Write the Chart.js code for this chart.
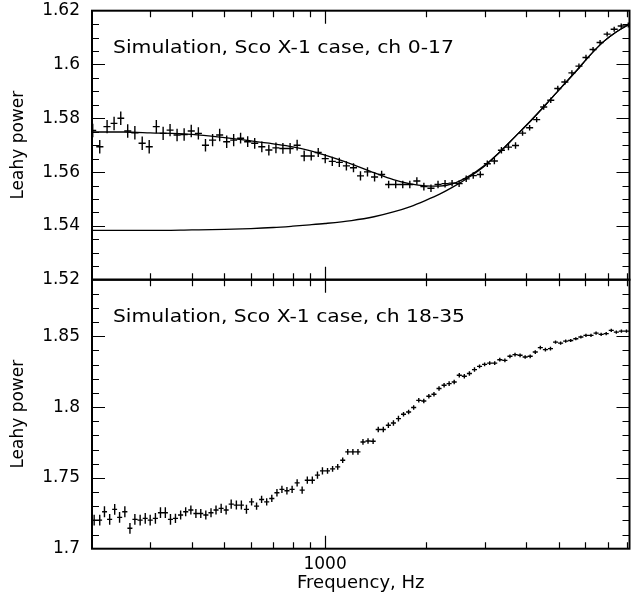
<!DOCTYPE html>
<html>
<head>
<meta charset="utf-8">
<script src="https://cdn.jsdelivr.net/npm/chart.js@4.4.1/dist/chart.umd.min.js"></script>
<style>
  html, body { margin: 0; padding: 0; background: #fff; }
  canvas { display: block; }
</style>
</head>
<body>
<canvas id="leahy" width="637" height="602"></canvas>
<script>
"use strict";

/* panel labels */
var topLabel = 'Simulation, Sco X-1 case, ch 0-17';
var bottomLabel = 'Simulation, Sco X-1 case, ch 18-35';

/* axis ranges and ticks */
var freqRange = [201, 8130];
var xLabelTicks = [1000];
var xMinorTicks = [300, 400, 500, 600, 700, 800, 900, 2000, 3000, 4000, 5000, 6000, 7000, 8000];
var topRange = [1.52, 1.62];
var bottomRange = [1.70, 1.89];

/* ch 0-17 : binned power */
var topFreq = [202, 212, 223, 234, 245, 257, 270, 284, 298, 313, 328, 344, 361, 379, 398, 418, 439, 461, 484, 508,
    533, 559, 587, 616, 647, 679, 713, 748, 786, 825, 866, 909, 954, 1001, 1051, 1103, 1158, 1216, 1276, 1339,
    1406, 1476, 1549, 1626, 1707, 1792, 1881, 1974, 2073, 2176, 2284, 2397, 2516, 2642, 2773, 2911, 3055, 3207,
    3367, 3534, 3710, 3894, 4088, 4291, 4504, 4728, 4963, 5210, 5469, 5741, 6026, 6326, 6640, 6970, 7317, 7680, 8062];
var topPower = [1.5755, 1.5694, 1.5769, 1.5781, 1.5800, 1.5753, 1.5746, 1.5707, 1.5694, 1.5769, 1.5744, 1.5756,
    1.5738, 1.5740, 1.5753, 1.5744, 1.5700, 1.5719, 1.5738, 1.5713, 1.5719, 1.5726, 1.5713, 1.5707, 1.5694, 1.5682,
    1.5690, 1.5688, 1.5688, 1.5700, 1.5660, 1.5660, 1.5673, 1.5650, 1.5640, 1.5636, 1.5623, 1.5616, 1.5586, 1.5601,
    1.5582, 1.5591, 1.5554, 1.5554, 1.5554, 1.5554, 1.5567, 1.5546, 1.5540, 1.5554, 1.5557, 1.5559, 1.5557, 1.5575,
    1.5587, 1.5591, 1.5631, 1.5641, 1.5681, 1.5693, 1.5699, 1.5745, 1.5765, 1.5795, 1.5842, 1.5867, 1.5911, 1.5935,
    1.5969, 1.5994, 1.6026, 1.6056, 1.6082, 1.6113, 1.6131, 1.6143, 1.6147];
var topError = [0.0025, 0.0025, 0.0025, 0.0025, 0.0025, 0.0025, 0.0025, 0.0025, 0.0025, 0.0025, 0.0025,
    0.0023, 0.0023, 0.0023, 0.0023, 0.0023, 0.0023, 0.0023, 0.0023, 0.0023, 0.0023,
    0.0020, 0.0020, 0.0020, 0.0020, 0.0020, 0.0020, 0.0020, 0.0020, 0.0020, 0.0020,
    0.0017, 0.0017, 0.0017, 0.0017, 0.0017, 0.0017, 0.0017, 0.0017, 0.0017, 0.0017,
    0.0014, 0.0014, 0.0014, 0.0014, 0.0014, 0.0014, 0.0014, 0.0014, 0.0014, 0.0014,
    0.0012, 0.0012, 0.0012, 0.0012, 0.0012, 0.0012, 0.0012, 0.0012, 0.0012, 0.0012,
    0.0010, 0.0010, 0.0010, 0.0010, 0.0010, 0.0010, 0.0010, 0.0010, 0.0010, 0.0010,
    0.0009, 0.0009, 0.0009, 0.0009, 0.0009, 0.0009];

/* ch 0-17 : model and lower component */
var curveFreq = [201, 250, 300, 400, 500, 600, 700, 800, 900, 1000, 1200, 1400, 1600, 1800, 2000, 2200, 2400,
    2700, 3000, 3300, 3700, 4100, 4600, 5100, 5600, 6200, 6800, 7400, 8130];
var modelPower = [1.5749, 1.5749, 1.5746, 1.5740, 1.5728, 1.5716, 1.5705, 1.5694, 1.5680, 1.5663, 1.5630, 1.5598,
    1.5572, 1.5556, 1.5549, 1.5548, 1.5556, 1.5586, 1.5625, 1.5670, 1.5732, 1.5788, 1.5855, 1.5917, 1.5972, 1.6035,
    1.6085, 1.6120, 1.6150];
var lowerPower = [1.5383, 1.5383, 1.5383, 1.5385, 1.5387, 1.5390, 1.5394, 1.5399, 1.5404, 1.5409, 1.5420, 1.5434,
    1.5452, 1.5472, 1.5495, 1.5518, 1.5543, 1.5582, 1.5623, 1.5670, 1.5732, 1.5788, 1.5855, 1.5917, 1.5972, 1.6035,
    1.6085, 1.6120, 1.6150];

/* ch 18-35 : binned power */
var bottomFreq = [204, 212, 219, 227, 235, 243, 252, 261, 270, 280, 290, 300, 311, 322, 333, 345, 357, 370, 383, 397,
    411, 425, 440, 456, 472, 489, 506, 524, 543, 562, 582, 603, 624, 646, 669, 693, 718, 743, 769, 797,
    825, 854, 885, 916, 949, 982, 1017, 1053, 1091, 1129, 1169, 1211, 1254, 1298, 1344, 1392, 1442, 1493, 1546, 1601,
    1657, 1716, 1777, 1840, 1906, 1973, 2043, 2116, 2191, 2269, 2349, 2432, 2519, 2608, 2701, 2797, 2896, 2999, 3105, 3215,
    3329, 3448, 3570, 3697, 3828, 3964, 4104, 4250, 4401, 4557, 4719, 4886, 5060, 5239, 5425, 5618, 5817, 6024, 6237, 6459,
    6688, 6925, 7171, 7426, 7689, 7962];
var bottomPower = [1.7202, 1.7202, 1.7261, 1.7207, 1.7278, 1.7221, 1.7261, 1.7144, 1.7207, 1.7202, 1.7214, 1.7202,
    1.7214, 1.7254, 1.7254, 1.7207, 1.7214, 1.7238, 1.7261, 1.7273, 1.7249, 1.7249, 1.7238, 1.7254, 1.7273, 1.7285,
    1.7273, 1.7315, 1.7308, 1.7308, 1.7278, 1.7331, 1.7301, 1.7348, 1.7331, 1.7355, 1.7395, 1.7419, 1.7409, 1.7419,
    1.7465, 1.7414, 1.7484, 1.7484, 1.7520, 1.7550, 1.7550, 1.7564, 1.7578, 1.7625, 1.7684, 1.7684, 1.7684, 1.7754,
    1.7761, 1.7759, 1.7842, 1.7842, 1.7872, 1.7888, 1.7919, 1.7950, 1.7966, 1.7997, 1.8048, 1.8043, 1.8077, 1.8091,
    1.8131, 1.8154, 1.8166, 1.8177, 1.8225, 1.8218, 1.8237, 1.8265, 1.8288, 1.8302, 1.8311, 1.8311, 1.8335, 1.8330,
    1.8359, 1.8371, 1.8366, 1.8354, 1.8359, 1.8389, 1.8420, 1.8406, 1.8413, 1.8459, 1.8452, 1.8466, 1.8471, 1.8483,
    1.8495, 1.8507, 1.8507, 1.8523, 1.8514, 1.8519, 1.8542, 1.8530, 1.8537, 1.8537];
var bottomError = [0.0038, 0.0038, 0.0038, 0.0038, 0.0038, 0.0038, 0.0038, 0.0038, 0.0038, 0.0038, 0.0038, 0.0038,
    0.0038, 0.0038, 0.0038, 0.0038, 0.0032, 0.0032, 0.0032, 0.0032, 0.0032, 0.0032, 0.0032, 0.0032, 0.0032, 0.0032,
    0.0032, 0.0032, 0.0032, 0.0032, 0.0032, 0.0026, 0.0026, 0.0026, 0.0026, 0.0026, 0.0026, 0.0026, 0.0026, 0.0026,
    0.0026, 0.0026, 0.0026, 0.0026, 0.0026, 0.0026, 0.0020, 0.0020, 0.0020, 0.0020, 0.0020, 0.0020, 0.0020, 0.0020,
    0.0020, 0.0020, 0.0020, 0.0020, 0.0020, 0.0020, 0.0020, 0.0016, 0.0016, 0.0016, 0.0016, 0.0016, 0.0016, 0.0016,
    0.0016, 0.0016, 0.0016, 0.0016, 0.0016, 0.0016, 0.0016, 0.0016, 0.0013, 0.0013, 0.0013, 0.0013, 0.0013, 0.0013,
    0.0013, 0.0013, 0.0013, 0.0013, 0.0013, 0.0013, 0.0013, 0.0013, 0.0013, 0.0011, 0.0011, 0.0011, 0.0011, 0.0011,
    0.0011, 0.0011, 0.0011, 0.0011, 0.0011, 0.0011, 0.0011, 0.0011, 0.0011, 0.0011];

var FONT = 'DejaVu Sans';

function points(xs, ys) {
    return xs.map(function (x, i) { return { x: x, y: ys[i] }; });
}

var panels = [
    { id: 'yTop', range: topRange, major: 0.02, minor: 0.005, text: topLabel, width: 341 },
    { id: 'yBottom', range: bottomRange, major: 0.05, minor: 0.01, text: bottomLabel, width: 352 }
];

/* data bins drawn as crosses: bin width horizontally, error vertically */
var crossPlugin = {
    id: 'crosses',
    afterDatasetsDraw: function (chart) {
        var ctx = chart.ctx, xs = chart.scales.x;
        chart.data.datasets.forEach(function (ds) {
            if (!ds.errors) return;
            var ys = chart.scales[ds.yAxisID];
            var f = ds.data.map(function (p) { return p.x; });
            ctx.save();
            ctx.beginPath();
            ctx.rect(xs.left, ys.top, xs.right - xs.left, ys.bottom - ys.top);
            ctx.clip();
            ctx.strokeStyle = '#000';
            ctx.lineWidth = 1.4;
            ctx.beginPath();
            ds.data.forEach(function (p, i) {
                var lo = i > 0 ? Math.sqrt(f[i - 1] * f[i]) : f[i] * Math.sqrt(f[i] / f[i + 1]);
                var hi = i < f.length - 1 ? Math.sqrt(f[i] * f[i + 1]) : f[i] * Math.sqrt(f[i] / f[i - 1]);
                var px = xs.getPixelForValue(p.x), py = ys.getPixelForValue(p.y);
                ctx.moveTo(xs.getPixelForValue(lo), py);
                ctx.lineTo(xs.getPixelForValue(hi), py);
                ctx.moveTo(px, ys.getPixelForValue(p.y - ds.errors[i]));
                ctx.lineTo(px, ys.getPixelForValue(p.y + ds.errors[i]));
            });
            ctx.stroke();
            ctx.restore();
        });
    }
};

/* boxed frame with inward ticks on all four sides, plus the panel caption */
var framePlugin = {
    id: 'frame',
    afterDraw: function (chart) {
        var ctx = chart.ctx, xs = chart.scales.x;
        var L = xs.left, R = xs.right;
        ctx.save();
        ctx.strokeStyle = '#000';
        ctx.fillStyle = '#000';
        panels.forEach(function (p) {
            var ys = chart.scales[p.id];
            var T = ys.top, B = ys.bottom;
            ctx.lineWidth = 1.2;
            ctx.beginPath();
            xLabelTicks.concat(xMinorTicks).forEach(function (v) {
                var px = Math.round(xs.getPixelForValue(v)) + 0.5;
                var len = xLabelTicks.indexOf(v) >= 0 ? 13 : 6.5;
                ctx.moveTo(px, T); ctx.lineTo(px, T + len);
                ctx.moveTo(px, B); ctx.lineTo(px, B - len);
            });
            var n = Math.round((p.range[1] - p.range[0]) / p.minor);
            for (var k = 1; k < n; k++) {
                var v = p.range[0] + k * p.minor;
                var q = v / p.major;
                var len = Math.abs(q - Math.round(q)) < 1e-6 ? 13 : 7;
                var py = Math.round(ys.getPixelForValue(v)) + 0.5;
                ctx.moveTo(L, py); ctx.lineTo(L + len, py);
                ctx.moveTo(R, py); ctx.lineTo(R - len, py);
            }
            ctx.stroke();
            ctx.lineWidth = 2;
            ctx.strokeRect(L, T, R - L, B - T);

            ctx.font = '18px "' + FONT + '"';
            ctx.textBaseline = 'alphabetic';
            ctx.textAlign = 'left';
            var w = ctx.measureText(p.text).width;
            ctx.save();
            ctx.translate(L + 21, T + 42.5);
            ctx.scale(p.width / w, 1);
            ctx.fillText(p.text, 0, 0);
            ctx.restore();
        });
        ctx.restore();
    }
};

function yTickLabel(v) {
    return String(parseFloat(v.toFixed(2)));
}

function yScale(range, step, weight) {
    return {
        type: 'linear',
        position: 'left',
        stack: 'panels',
        stackWeight: weight,
        min: range[0],
        max: range[1],
        grid: { display: false, drawTicks: false },
        border: { display: false },
        ticks: {
            stepSize: step,
            includeBounds: false,
            padding: 12,
            color: '#000',
            font: { family: FONT, size: 17 },
            callback: yTickLabel
        },
        title: {
            display: true,
            text: 'Leahy power',
            color: '#000',
            font: { family: FONT, size: 17, lineHeight: 1.2 },
            padding: { top: 8, bottom: 0 }
        },
        afterFit: function (scale) {
            scale.width = 92;
            scale.paddingTop = 0;
            scale.paddingBottom = 0;
        }
    };
}

var ctx = document.getElementById('leahy').getContext('2d');
var chart = new Chart(ctx, {
    type: 'scatter',
    data: {
        datasets: [{
            label: 'model',
            data: points(curveFreq, modelPower),
            yAxisID: 'yTop',
            showLine: true,
            borderColor: '#000',
            borderWidth: 1.3,
            pointRadius: 0,
            cubicInterpolationMode: 'monotone'
        }, {
            label: 'component',
            data: points(curveFreq, lowerPower),
            yAxisID: 'yTop',
            showLine: true,
            borderColor: '#000',
            borderWidth: 1.3,
            pointRadius: 0,
            cubicInterpolationMode: 'monotone'
        }, {
            label: 'ch 0-17',
            data: points(topFreq, topPower),
            errors: topError,
            yAxisID: 'yTop',
            pointRadius: 0
        }, {
            label: 'ch 18-35',
            data: points(bottomFreq, bottomPower),
            errors: bottomError,
            yAxisID: 'yBottom',
            pointRadius: 0
        }]
    },
    options: {
        responsive: false,
        animation: false,
        events: [],
        layout: { padding: { left: 0, right: 7.5, top: 10.7, bottom: 0 } },
        plugins: {
            legend: { display: false },
            tooltip: { enabled: false }
        },
        scales: {
            x: {
                type: 'logarithmic',
                position: 'bottom',
                min: freqRange[0],
                max: freqRange[1],
                grid: { display: false, drawTicks: false },
                border: { display: false },
                afterBuildTicks: function (scale) {
                    scale.ticks = xLabelTicks.map(function (v) { return { value: v }; });
                },
                ticks: {
                    autoSkip: false,
                    maxRotation: 0,
                    padding: 6,
                    color: '#000',
                    font: { family: FONT, size: 17 },
                    callback: function (v) { return String(v); }
                },
                title: {
                    display: true,
                    text: 'Frequency, Hz',
                    color: '#000',
                    font: { family: FONT, size: 18, lineHeight: 1.2 },
                    padding: { top: 0, bottom: 8 }
                },
                afterFit: function (scale) {
                    scale.height = 53.3;
                    scale.paddingLeft = 0;
                    scale.paddingRight = 0;
                }
            },
            yBottom: yScale(bottomRange, 0.05, 1),
            yTop: yScale(topRange, 0.02, 1)
        }
    },
    plugins: [crossPlugin, framePlugin]
});
</script>
</body>
</html>
